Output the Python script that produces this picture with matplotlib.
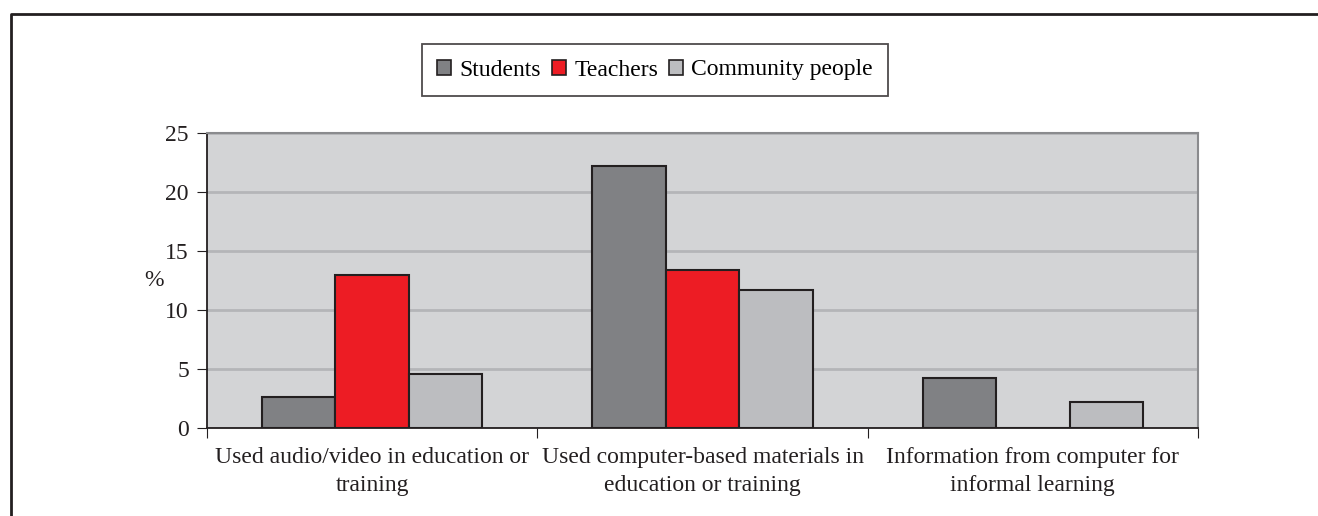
import matplotlib.pyplot as plt
import matplotlib.patches as mpatches
from matplotlib.lines import Line2D
import numpy as np

plt.rcParams['font.family'] = ['Liberation Serif', 'DejaVu Serif']

categories = ["Used audio/video in education or\ntraining",
              "Used computer-based materials in\neducation or training",
              "Information from computer for\ninformal learning"]
series = ["Students", "Teachers", "Community people"]
students = [2.6, 22.2, 4.2]
teachers = [13.0, 13.4, 0]
community = [4.6, 11.7, 2.2]
colors = ["#808184", "#ED1C24", "#BCBDC0"]

W, H = 1318, 516
fs = 17
fig = plt.figure(figsize=(W / 100, H / 100), dpi=100)
ax = fig.add_axes([207 / W, 1 - 428 / H, (1198 - 207) / W, (428 - 133) / H])
ax.set_facecolor("#D3D4D6")

x = np.arange(len(categories)) + 0.5
bw = 1 / 4.5
for i, (vals, c) in enumerate(zip([students, teachers, community], colors)):
    ax.bar(x + (i - 1) * bw, vals, bw, color=c, edgecolor="#231F20", linewidth=1.5, zorder=3)

ax.set_xlim(0, 3)
ax.set_ylim(0, 25)
ax.set_yticks([0, 5, 10, 15, 20, 25])
ax.yaxis.grid(True, color="#B4B5B8", linewidth=2, zorder=0)
ax.set_axisbelow(True)
ax.set_xticks([0, 1, 2, 3])
ax.set_xticklabels([])
ax.set_xticks(x, minor=True)
ax.set_xticklabels(categories, minor=True, fontsize=fs, color="#231F20", linespacing=1.4)
ax.tick_params(axis="x", which="minor", length=0, pad=14)
ax.tick_params(axis="x", which="major", length=7, direction="out", color="#231F20")
ax.tick_params(axis="y", length=7, direction="out", labelsize=fs, color="#231F20", labelcolor="#231F20", pad=6)

for s in ["left", "bottom"]:
    ax.spines[s].set_color("#231F20")
    ax.spines[s].set_linewidth(1.3)
for s in ["top", "right"]:
    ax.spines[s].set_color("#8A8B8E")
    ax.spines[s].set_linewidth(1.5)

ax.set_ylabel("%", rotation=0, fontsize=fs, color="#231F20", labelpad=8, va="center")

handles = [mpatches.Patch(facecolor=c, edgecolor="#231F20", linewidth=1.2, label=l)
           for c, l in zip(colors, series)]
leg = fig.legend(handles=handles, loc="center", bbox_to_anchor=(655 / W, 1 - 70 / H), ncol=3,
                 fontsize=fs, frameon=True, fancybox=False, edgecolor="#231F20",
                 handlelength=0.6, handleheight=0.6, handletextpad=0.35, columnspacing=0.45,
                 borderpad=0.65)
leg.get_frame().set_linewidth(1.3)

# outer frame of the figure (cut off at right and bottom)
fig.add_artist(Line2D([11 / W, 11 / W, 1], [0, 1 - 14 / H, 1 - 14 / H],
                      transform=fig.transFigure, color="#231F20", linewidth=2))

fig.savefig("out.png", dpi=100)
